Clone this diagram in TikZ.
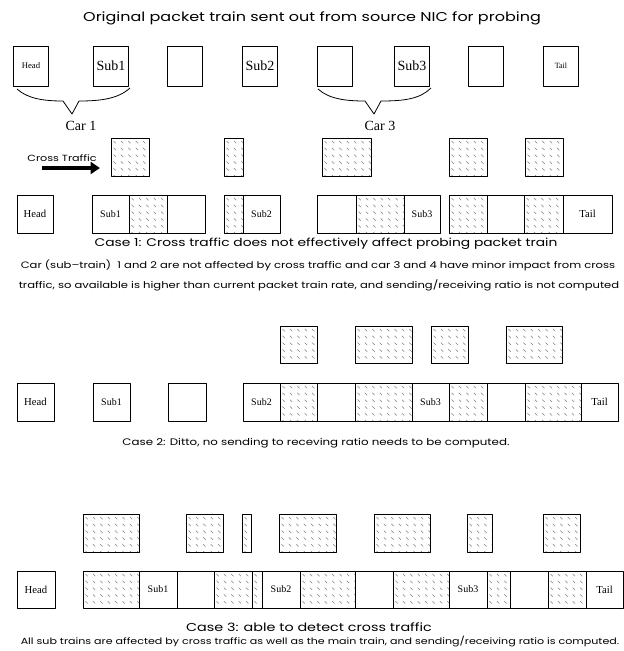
\documentclass[tikz,border=0pt]{standalone}
\usepackage{fontspec}
\setmainfont{Liberation Serif}
\newfontfamily\capfont[FakeStretch=1.25]{Poppins}
\usetikzlibrary{arrows.meta}
\tikzset{
  pk/.style={draw, line width=0.6pt, inner sep=0pt},
  wd/.style={minimum width=#1*0.75pt},
  lbl/.style={font=\fontsize{#1}{#1}\selectfont},
  hatch/.style={pk, path picture={
      \foreach \i in {0,...,7}
        \foreach \j in {0,...,5}
          \draw[gray, line width=0.4pt]
            ([shift={(\i*7.4+2.5,\j*6.8+3)}]path picture bounding box.north west) -- ++(2.3,2.3);
    }},
  cap/.style={font=\capfont\fontsize{#1}{#1}\selectfont, inner sep=0pt},
  brace/.style={line width=0.6pt},
  bigarrow/.style={line width=3pt, -{Triangle[length=7pt,width=9pt]}}
}
\begin{document}
\begin{tikzpicture}[x=0.75pt, y=-0.75pt, line join=round]
  \fill[white] (0,0) rectangle (624,651);
  \useasboundingbox (0,0) rectangle (624,651);

  % el tren original
  \node[cap=9.6] (title) at (312,18) {Original packet train sent out from source NIC for probing};
  \begin{scope}[every node/.append style={minimum height=30pt}]
    \node[pk, wd=35, lbl=6.5] (oh) at (31,66) {Head};
    \node[pk, wd=35, lbl=10.5] (os1) at (111,66) {Sub1};
    \node[pk, wd=35] (oe1) at (185,66) {};
    \node[pk, wd=35, lbl=10.5] (os2) at (260,66) {Sub2};
    \node[pk, wd=35] (oe2) at (335,66) {};
    \node[pk, wd=35, lbl=10.5] (os3) at (412,66) {Sub3};
    \node[pk, wd=35] (oe3) at (486,66) {};
    \node[pk, wd=35, lbl=6] (ot) at (561,66) {Tail};
  \end{scope}
  \draw[brace] (17,89) .. controls (28,99) and (45,101) .. (63,101) -- (72,114) -- (79,101)
    .. controls (100,101) and (118,99) .. (130,88);
  \draw[brace] (318,89) .. controls (329,99) and (346,101) .. (365,101) -- (374,114) -- (381,101)
    .. controls (404,101) and (420,99) .. (431,88);
  \node[lbl=10.5] (car1) at (81,126) {Car 1};
  \node[lbl=10.5] (car3) at (380,126) {Car 3};

  % caso 1
  \begin{scope}[every node/.append style={minimum height=28.5pt}]
    \node[hatch, wd=38] (a1) at (130,157) {};
    \node[hatch, wd=19] (a2) at (233.5,157) {};
    \node[hatch, wd=49] (a3) at (346.5,157) {};
    \node[hatch, wd=38] (a4) at (468,157) {};
    \node[hatch, wd=38] (a5) at (544,157) {};
    \node[pk, wd=36, lbl=8] (b0) at (35,214) {Head};
    \node[pk, wd=37, lbl=7.5] (b1) at (110.5,214) {Sub1};
    \node[hatch, wd=38] (b2) at (148,214) {};
    \node[pk, wd=38] (b3) at (186,214) {};
    \node[hatch, wd=19] (b4) at (233.5,214) {};
    \node[pk, wd=37, lbl=7.5] (b5) at (261.5,214) {Sub2};
    \node[pk, wd=39] (b6) at (336.5,214) {};
    \node[hatch, wd=48] (b7) at (380,214) {};
    \node[pk, wd=36, lbl=7.5] (b8) at (422,214) {Sub3};
    \node[hatch, wd=38] (b9) at (468,214) {};
    \node[pk, wd=37] (b10) at (505.5,214) {};
    \node[hatch, wd=39] (b11) at (543.5,214) {};
    \node[pk, wd=49, lbl=8] (b12) at (587.5,214) {Tail};
  \end{scope}
  \coordinate (ct) at (42,168);
  \node[cap=6.7] (ctl) at (62,158) {Cross Traffic};
  \draw[bigarrow, shorten >=8pt] (ct) -- (ct -| a1.west);
  \node[cap=8.3] (case1) at (326,244) {Case 1: Cross traffic does not effectively affect probing packet train};
  \node[cap=6.95] (note1a) at (318,265) {Car (sub–train)\ \ 1 and 2 are not affected by cross traffic and car 3 and 4 have minor impact from cross};
  \node[cap=6.95] (note1b) at (319,285) {traffic, so available is higher than current packet train rate, and sending/receiving ratio is not computed};

  % caso 2
  \begin{scope}[every node/.append style={minimum height=27.75pt}]
    \node[hatch, wd=37] (d1) at (298.5,344.5) {};
    \node[hatch, wd=57] (d2) at (383.5,344.5) {};
    \node[hatch, wd=37] (d3) at (449.5,344.5) {};
    \node[hatch, wd=56] (d4) at (534,344.5) {};
  \end{scope}
  \begin{scope}[every node/.append style={minimum height=28.5pt}]
    \node[pk, wd=37, lbl=8] (e0) at (35.5,402) {Head};
    \node[pk, wd=37, lbl=7.5] (e1) at (111.5,402) {Sub1};
    \node[pk, wd=38] (e2) at (187,402) {};
    \node[pk, wd=37, lbl=7.5] (e3) at (261.5,402) {Sub2};
    \node[hatch, wd=37] (e4) at (298.5,402) {};
    \node[pk, wd=38] (e5) at (336,402) {};
    \node[hatch, wd=57] (e6) at (383.5,402) {};
    \node[pk, wd=37, lbl=7.5] (e7) at (430.5,402) {Sub3};
    \node[hatch, wd=38] (e8) at (468,402) {};
    \node[pk, wd=38] (e9) at (506,402) {};
    \node[hatch, wd=56] (e10) at (553,402) {};
    \node[pk, wd=37, lbl=8] (e11) at (599.5,402) {Tail};
  \end{scope}
  \node[cap=7.1] (case2) at (316,443) {Case 2: Ditto, no sending to receving ratio needs to be computed.};

  % caso 3
  \begin{scope}[every node/.append style={minimum height=28.5pt}]
    \node[hatch, wd=56] (f1) at (111,533) {};
    \node[hatch, wd=37] (f2) at (204.5,533) {};
    \node[hatch, wd=9] (f3) at (246.5,533) {};
    \node[hatch, wd=57] (f4) at (307.5,533) {};
    \node[hatch, wd=56] (f5) at (402,533) {};
    \node[hatch, wd=25] (f6) at (479.5,533) {};
    \node[hatch, wd=37] (f7) at (561.5,533) {};
  \end{scope}
  \begin{scope}[every node/.append style={minimum height=27.75pt}]
    \node[pk, wd=38, lbl=8] (g0) at (36,589.5) {Head};
    \node[hatch, wd=56] (g1) at (111,589.5) {};
    \node[pk, wd=38, lbl=7.5] (g2) at (158,589.5) {Sub1};
    \node[pk, wd=37] (g3) at (195.5,589.5) {};
    \node[hatch, wd=38] (g4) at (233,589.5) {};
    \node[hatch, wd=10] (g5) at (257,589.5) {};
    \node[pk, wd=38, lbl=7.5] (g6) at (281,589.5) {\raisebox{-5pt}{Sub2}};
    \node[hatch, wd=55] (g7) at (327.5,589.5) {};
    \node[pk, wd=38] (g8) at (374,589.5) {};
    \node[hatch, wd=56] (g9) at (421,589.5) {};
    \node[pk, wd=38, lbl=7.5] (g10) at (468,589.5) {\raisebox{-5pt}{Sub3}};
    \node[hatch, wd=23] (g11) at (498.5,589.5) {};
    \node[pk, wd=38] (g12) at (529,589.5) {};
    \node[hatch, wd=38] (g13) at (567,589.5) {};
    \node[pk, wd=37, lbl=8] (g14) at (604.5,589.5) {Tail};
  \end{scope}
  \node[cap=8.6] (case3) at (309,627) {Case 3: able to detect cross traffic};
  \node[cap=6.65] (note3) at (320,642) {All sub trains are affected by cross traffic as well as the main train, and sending/receiving ratio is computed.};
\end{tikzpicture}
\end{document}
